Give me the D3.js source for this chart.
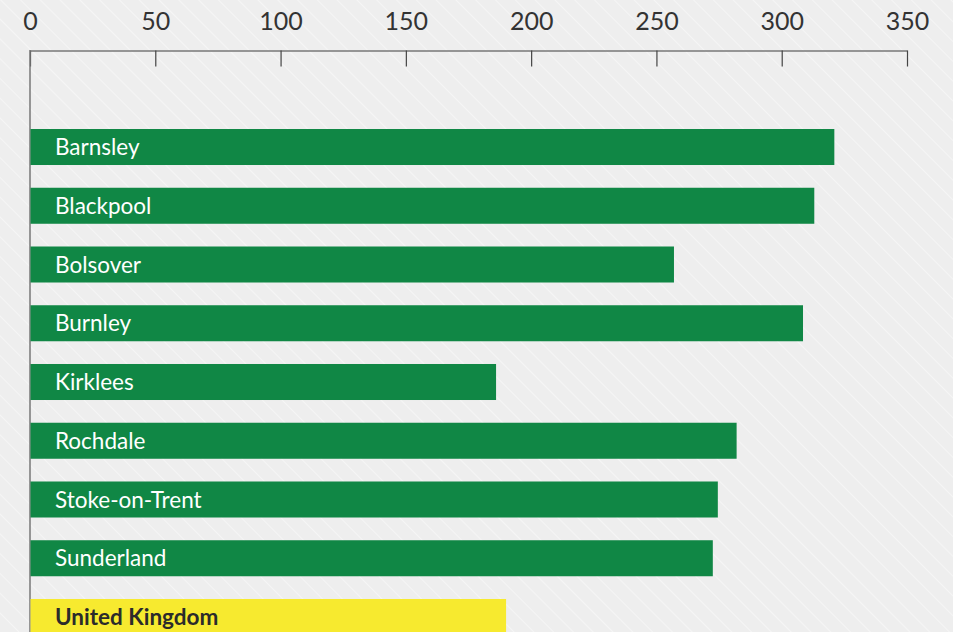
<!DOCTYPE html>
<html><head><meta charset="utf-8">
<script src="https://cdn.jsdelivr.net/npm/d3@7"></script>
<style>
html,body{margin:0;padding:0;background:#eeeeee;overflow:hidden;}
svg{display:block;font-family:Lato,"Open Sans",sans-serif;}
</style></head>
<body>
<svg id="chart" width="953" height="632"></svg>
<script>
const categories = ["Barnsley","Blackpool","Bolsover","Burnley","Kirklees","Rochdale","Stoke-on-Trent","Sunderland","United Kingdom"];
const values = [321, 313, 257, 308.5, 186, 282, 274.5, 272.5, 190];
const highlight = "United Kingdom";
const tickValues = [0,50,100,150,200,250,300,350];

const svg = d3.select("#chart");
const W = 953, H = 632;

const defs = svg.append("defs");
const pat = defs.append("pattern").attr("id","stripes").attr("patternUnits","userSpaceOnUse")
  .attr("width",14).attr("height",14).attr("patternTransform","rotate(-45)");
pat.append("rect").attr("width",14).attr("height",14).attr("fill","#eeeeee");
pat.append("line").attr("x1",0).attr("y1",0).attr("x2",0).attr("y2",14)
  .attr("stroke","#f5f5f5").attr("stroke-width",2);
svg.append("rect").attr("width",W).attr("height",H).attr("fill","url(#stripes)");

const x = d3.scaleLinear().domain([0,350]).range([30,907]);
const y = d3.scaleBand().domain(categories).range([129,635]).paddingInner(0.387).paddingOuter(0);

// axis
const axis = d3.axisTop(x).tickValues(tickValues).tickSize(-16).tickPadding(0).tickSizeOuter(0);
const gx = svg.append("g").attr("transform","translate(0,50.5)").call(axis);
gx.select(".domain").attr("stroke","#777").attr("stroke-width",1.5);
gx.selectAll(".tick line").attr("stroke","#444").attr("stroke-width",1.2);
gx.selectAll(".tick text").attr("fill","#333").attr("font-size",25).attr("font-family","Lato")
  .attr("y",-21).attr("dy",0);

// left axis line
svg.append("line").attr("x1",x(0)).attr("x2",x(0)).attr("y1",50).attr("y2",H)
  .attr("stroke","#777").attr("stroke-width",1.5);

const bars = svg.append("g");
bars.selectAll("rect").data(categories).join("rect")
  .attr("x",x(0)+0.5).attr("y",d=>y(d))
  .attr("width",(d,i)=>x(values[i])-x(0)-0.5)
  .attr("height",y.bandwidth())
  .attr("fill",d=>d===highlight?"#f7ea2f":"#108745");

bars.selectAll("text").data(categories).join("text")
  .attr("x",55).attr("y",d=>y(d)+y.bandwidth()/2).attr("dy","0.36em")
  .attr("font-size",22.5)
  .attr("font-weight",d=>d===highlight?"bold":"normal")
  .attr("fill",d=>d===highlight?"#2b2b2b":"#ffffff")
  .text(d=>d);
</script>
</body></html>
